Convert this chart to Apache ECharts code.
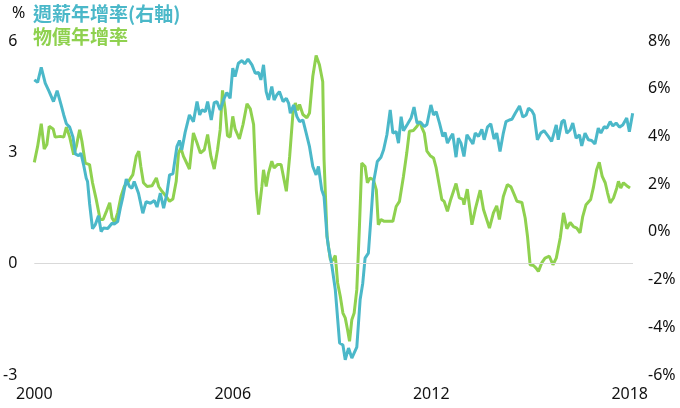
<!DOCTYPE html>
<html>
<head>
<meta charset="utf-8">
<script src="https://cdn.jsdelivr.net/npm/echarts@6/dist/echarts.min.js"></script>
<style>
  html, body { margin: 0; padding: 0; background: #fff; }
  #chart { width: 680px; height: 408px; }
</style>
</head>
<body>
<div id="chart"></div>
<script>
// 週薪年增率 (右軸, %) - 年份以小數表示
var wageYears = [
  2000.00, 2000.10, 2000.21, 2000.33, 2000.45, 2000.58, 2000.69, 2000.81, 2000.89, 2000.97,
  2001.07, 2001.17, 2001.24, 2001.34, 2001.41, 2001.49, 2001.57, 2001.61, 2001.67, 2001.76,
  2001.84, 2001.94, 2002.02, 2002.09, 2002.22, 2002.35, 2002.42, 2002.52, 2002.60, 2002.68,
  2002.78, 2002.88, 2002.95, 2003.02, 2003.15, 2003.28, 2003.38, 2003.51, 2003.63, 2003.71,
  2003.81, 2003.91, 2004.01, 2004.09, 2004.19, 2004.31, 2004.39, 2004.46, 2004.56, 2004.69,
  2004.81, 2004.92, 2005.00, 2005.07, 2005.17, 2005.24, 2005.35, 2005.44, 2005.52, 2005.62,
  2005.74, 2005.82, 2005.92, 2006.00, 2006.07, 2006.17, 2006.28, 2006.36, 2006.46, 2006.58,
  2006.68, 2006.78, 2006.85, 2006.93, 2007.01, 2007.08, 2007.18, 2007.25, 2007.33, 2007.41,
  2007.52, 2007.62, 2007.69, 2007.74, 2007.84, 2007.94, 2008.02, 2008.12, 2008.22, 2008.32,
  2008.42, 2008.52, 2008.59, 2008.69, 2008.76, 2008.85, 2008.89, 2009.00, 2009.10, 2009.23,
  2009.33, 2009.40, 2009.50, 2009.60, 2009.75, 2009.85, 2009.93, 2010.00, 2010.10, 2010.18,
  2010.25, 2010.37, 2010.48, 2010.56, 2010.66, 2010.76, 2010.84, 2010.94, 2011.01, 2011.09,
  2011.16, 2011.28, 2011.39, 2011.48, 2011.57, 2011.69, 2011.79, 2011.87, 2011.99, 2012.07,
  2012.15, 2012.25, 2012.35, 2012.42, 2012.49, 2012.57, 2012.65, 2012.75, 2012.82, 2012.90,
  2012.99, 2013.08, 2013.18, 2013.26, 2013.33, 2013.43, 2013.53, 2013.60, 2013.70, 2013.80,
  2013.90, 2013.98, 2014.08, 2014.18, 2014.26, 2014.36, 2014.44, 2014.54, 2014.67, 2014.77,
  2014.87, 2014.94, 2015.04, 2015.11, 2015.21, 2015.31, 2015.41, 2015.54, 2015.64, 2015.71,
  2015.78, 2015.84, 2015.95, 2016.02, 2016.10, 2016.20, 2016.28, 2016.38, 2016.48, 2016.55,
  2016.65, 2016.75, 2016.85, 2016.95, 2017.05, 2017.13, 2017.23, 2017.31, 2017.41, 2017.49,
  2017.59, 2017.69, 2017.79, 2017.91, 2017.99, 2018.09
];
var wageValues = [
  6.37, 6.27, 6.90, 6.23, 5.88, 5.46, 5.92, 5.32, 4.90, 4.53,
  4.39, 3.97, 3.27, 3.19, 3.30, 2.81, 2.25, 2.11, 1.20, 0.13,
  0.29, 0.67, 0.01, 0.16, 0.14, 0.36, 0.33, 0.43, 0.99, 1.48,
  2.21, 1.90, 1.83, 2.11, 1.62, 0.78, 1.27, 1.20, 1.31, 1.04,
  1.62, 0.99, 1.62, 2.39, 2.43, 3.57, 3.83, 3.44, 4.17, 4.90,
  4.62, 5.46, 4.90, 5.11, 5.04, 5.46, 4.69, 5.42, 5.46, 5.11,
  5.60, 5.84, 5.60, 6.86, 6.51, 7.07, 7.18, 7.04, 7.24, 7.00,
  6.65, 6.68, 6.37, 7.00, 5.88, 5.53, 6.09, 5.53, 5.74, 5.88,
  5.46, 5.60, 5.39, 4.97, 5.32, 4.83, 4.62, 4.69, 4.14, 3.57,
  2.74, 2.39, 2.74, 1.76, 1.48, -0.20, -0.62, -1.45, -2.43, -4.66,
  -4.74, -5.36, -4.87, -5.29, -4.83, -2.85, -2.15, -1.10, -0.89, 0.64,
  2.04, 2.95, 3.13, 3.44, 4.07, 5.11, 4.14, 4.20, 3.72, 4.83,
  4.24, 4.51, 4.77, 5.23, 4.56, 4.58, 4.41, 4.50, 5.32, 4.90,
  5.04, 4.56, 4.00, 4.16, 3.72, 3.93, 4.11, 3.13, 3.93, 3.72,
  3.16, 4.07, 3.86, 3.69, 4.14, 4.00, 4.30, 3.86, 4.39, 4.53,
  3.89, 4.14, 3.37, 4.14, 4.62, 4.69, 4.72, 4.97, 5.28, 4.81,
  4.90, 5.18, 5.08, 4.90, 3.86, 4.14, 4.24, 4.00, 3.79, 4.14,
  4.48, 3.86, 4.62, 4.69, 4.14, 4.27, 4.56, 3.93, 4.07, 3.60,
  4.14, 3.86, 3.83, 3.69, 4.35, 4.14, 4.41, 4.35, 4.62, 4.44,
  4.56, 4.39, 4.48, 4.77, 4.20, 4.97
];

// 物價年增率 (左軸, %)
var cpiYears = [
  2000.00, 2000.10, 2000.21, 2000.30, 2000.38, 2000.45, 2000.57, 2000.63, 2000.79, 2000.89,
  2000.97, 2001.07, 2001.19, 2001.27, 2001.37, 2001.44, 2001.54, 2001.67, 2001.76, 2001.87,
  2001.99, 2002.08, 2002.18, 2002.28, 2002.35, 2002.43, 2002.52, 2002.62, 2002.72, 2002.85,
  2002.98, 2003.08, 2003.16, 2003.22, 2003.30, 2003.41, 2003.56, 2003.69, 2003.76, 2003.86,
  2003.99, 2004.09, 2004.19, 2004.29, 2004.36, 2004.43, 2004.51, 2004.56, 2004.69, 2004.81,
  2004.92, 2005.02, 2005.14, 2005.24, 2005.34, 2005.44, 2005.54, 2005.62, 2005.69, 2005.77,
  2005.84, 2005.92, 2006.00, 2006.07, 2006.20, 2006.31, 2006.43, 2006.53, 2006.63, 2006.71,
  2006.78, 2006.88, 2006.93, 2007.01, 2007.08, 2007.18, 2007.25, 2007.35, 2007.46, 2007.62,
  2007.72, 2007.82, 2007.89, 2007.96, 2008.02, 2008.12, 2008.24, 2008.32, 2008.42, 2008.52,
  2008.62, 2008.72, 2008.76, 2008.85, 2008.95, 2009.03, 2009.10, 2009.17, 2009.25, 2009.33,
  2009.40, 2009.47, 2009.53, 2009.60, 2009.67, 2009.75, 2009.83, 2009.90, 2010.00, 2010.07,
  2010.15, 2010.25, 2010.34, 2010.40, 2010.48, 2010.58, 2010.71, 2010.84, 2010.94, 2011.04,
  2011.16, 2011.26, 2011.34, 2011.46, 2011.57, 2011.65, 2011.72, 2011.79, 2011.87, 2011.97,
  2012.07, 2012.15, 2012.25, 2012.32, 2012.39, 2012.49, 2012.59, 2012.75, 2012.85, 2012.96,
  2012.99, 2013.09, 2013.23, 2013.33, 2013.48, 2013.58, 2013.76, 2013.88, 2013.98, 2014.06,
  2014.18, 2014.30, 2014.41, 2014.51, 2014.59, 2014.74, 2014.84, 2014.91, 2014.99, 2015.09,
  2015.17, 2015.24, 2015.34, 2015.44, 2015.57, 2015.68, 2015.78, 2015.90, 2016.00, 2016.10,
  2016.20, 2016.30, 2016.40, 2016.50, 2016.58, 2016.68, 2016.82, 2016.90, 2017.00, 2017.08,
  2017.17, 2017.26, 2017.33, 2017.41, 2017.51, 2017.61, 2017.66, 2017.73, 2017.81, 2017.91,
  2018.01
];
var cpiValues = [
  2.73, 3.16, 3.77, 3.09, 3.21, 3.70, 3.63, 3.41, 3.43, 3.41,
  3.68, 3.41, 2.94, 3.16, 3.61, 3.30, 2.71, 2.67, 2.18, 1.74,
  1.19, 1.19, 1.41, 1.64, 1.23, 1.11, 1.37, 1.81, 2.08, 2.22,
  2.40, 2.89, 3.03, 2.62, 2.18, 2.08, 2.10, 2.31, 2.08, 1.95,
  1.81, 1.68, 1.74, 2.22, 2.98, 3.12, 2.89, 2.80, 2.55, 3.52,
  3.25, 2.98, 3.07, 3.48, 2.89, 2.55, 3.07, 3.61, 4.67, 4.15,
  3.45, 3.41, 3.97, 3.63, 3.36, 3.75, 4.31, 4.17, 3.75, 1.99,
  1.32, 2.08, 2.53, 2.08, 2.44, 2.76, 2.58, 2.67, 2.67, 1.95,
  2.89, 4.06, 4.33, 4.13, 4.29, 4.02, 3.93, 4.06, 5.05, 5.61,
  5.36, 4.90, 2.80, 0.74, 0.11, 0.09, 0.22, -0.52, -0.88, -1.33,
  -1.46, -1.78, -2.09, -1.51, -1.33, -0.70, 1.01, 2.71, 2.62, 2.18,
  2.31, 2.26, 1.99, 1.05, 1.19, 1.14, 1.14, 1.14, 1.54, 1.68,
  2.35, 2.98, 3.57, 3.59, 3.70, 3.84, 3.66, 3.52, 3.03, 2.91,
  2.85, 2.58, 2.08, 1.73, 1.68, 1.41, 1.73, 2.16, 1.77, 1.73,
  1.59, 2.01, 1.05, 1.46, 1.98, 1.46, 0.96, 1.37, 1.56, 1.19,
  1.81, 2.13, 2.07, 1.86, 1.68, 1.65, 1.23, 0.74, -0.03, -0.05,
  -0.12, -0.21, 0.02, 0.15, 0.20, -0.03, 0.15, 0.69, 1.37, 0.94,
  1.11, 1.00, 0.96, 0.83, 1.27, 1.59, 1.73, 2.04, 2.53, 2.73,
  2.35, 2.18, 1.91, 1.64, 1.77, 2.04, 2.22, 2.04, 2.18, 2.10,
  2.04
];

var leftTicks = [-3, 0, 3, 6];
var rightTicks = [-6, -4, -2, 0, 2, 4, 6, 8];
var yearTicks = [2000, 2006, 2012, 2018];

var BLUE = '#4bb8c9';
var GREEN = '#8fd14f';
var NUM_FONT = '"Noto Sans", "DejaVu Sans", sans-serif';
var CJK_FONT = '"Noto Sans CJK TC", "Noto Sans CJK SC", sans-serif';

function zip(xs, ys) {
  return xs.map(function (x, i) { return [x, ys[i]]; });
}

var myChart = echarts.init(document.getElementById('chart'));

var option = {
  animation: false,
  backgroundColor: '#ffffff',
  grid: { left: 34, right: 47, top: 41, bottom: 33, containLabel: false },
  graphic: [
    { type: 'text', left: 12, top: 5, style: { text: '%', fontSize: 16, fontFamily: NUM_FONT, fill: '#111' } },
    { type: 'text', left: 33, top: 4, style: { text: '週薪年增率(右軸)', fontSize: 19, fontWeight: 'bold', fontFamily: CJK_FONT, fill: BLUE } },
    { type: 'text', left: 33, top: 27, style: { text: '物價年增率', fontSize: 19, fontWeight: 'bold', fontFamily: CJK_FONT, fill: GREEN } }
  ],
  xAxis: {
    type: 'value',
    min: yearTicks[0],
    max: 2018.1,
    interval: 6,
    axisLine: { show: false },
    axisTick: { show: false },
    splitLine: { show: false },
    axisLabel: {
      margin: 11,
      fontSize: 16,
      fontFamily: NUM_FONT,
      color: '#111',
      formatter: function (v) { return yearTicks.indexOf(v) >= 0 ? String(v) : ''; }
    }
  },
  yAxis: [{
    type: 'value',
    min: leftTicks[0],
    max: leftTicks[leftTicks.length - 1],
    interval: 3,
    axisLine: { show: false },
    axisTick: { show: false },
    splitLine: { show: false },
    axisLabel: { margin: 17, fontSize: 16, fontFamily: NUM_FONT, color: '#111' }
  }, {
    type: 'value',
    position: 'right',
    min: rightTicks[0],
    max: rightTicks[rightTicks.length - 1],
    interval: 2,
    axisLine: { show: false },
    axisTick: { show: false },
    splitLine: { show: false },
    axisLabel: { margin: 15, fontSize: 16, fontFamily: NUM_FONT, color: '#111', formatter: '{value}%' }
  }],
  series: [{
    name: '物價年增率',
    type: 'line',
    yAxisIndex: 0,
    data: zip(cpiYears, cpiValues),
    showSymbol: false,
    symbol: 'none',
    lineStyle: { color: GREEN, width: 3 },
    itemStyle: { color: GREEN },
    markLine: {
      silent: true,
      symbol: 'none',
      label: { show: false },
      lineStyle: { color: '#d9d9d9', width: 1, type: 'solid' },
      data: [{ yAxis: 0 }]
    }
  }, {
    name: '週薪年增率(右軸)',
    type: 'line',
    yAxisIndex: 1,
    data: zip(wageYears, wageValues),
    showSymbol: false,
    symbol: 'none',
    lineStyle: { color: BLUE, width: 3 },
    itemStyle: { color: BLUE }
  }]
};

myChart.setOption(option);
</script>
</body>
</html>
